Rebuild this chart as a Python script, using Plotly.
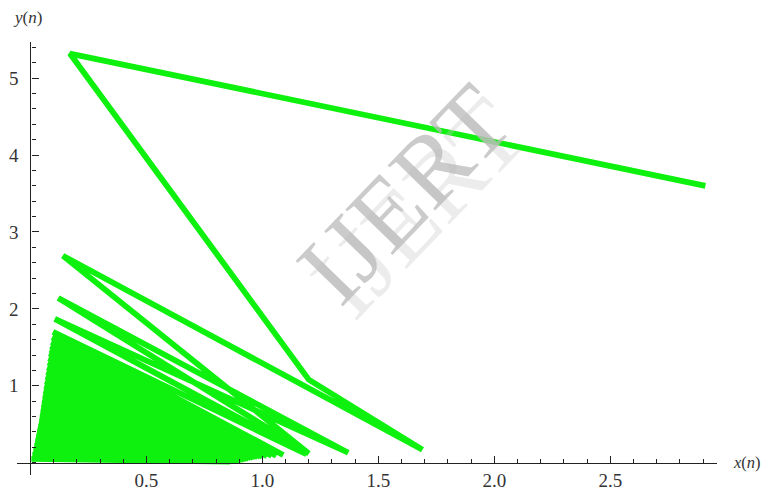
import plotly.graph_objects as go

# Trajectory of the iterated map (x(n), y(n))
x_n = [2.91, 0.17, 1.20, 1.69, 0.14, 1.20, 0.12, 1.37, 0.105, 1.19,
       0.097, 1.09, 0.093, 1.06, 0.090, 1.04, 0.087, 1.02, 0.084, 1.00,
       0.081, 0.99, 0.078, 0.98, 0.075, 0.97, 0.072, 0.96, 0.069, 0.96,
       0.066, 0.95, 0.063, 0.95, 0.060, 0.94, 0.057, 0.94, 0.054, 0.93,
       0.051, 0.93, 0.048, 0.92, 0.045, 0.92, 0.042, 0.91, 0.039, 0.91,
       0.036, 0.90, 0.032, 0.90, 0.028, 0.89, 0.024, 0.89, 0.020, 0.88,
       0.016, 0.88, 0.012, 0.87, 0.008, 0.86, 0.004]
y_n = [3.60, 5.32, 1.08, 0.17, 2.69, 0.12, 2.14, 0.13, 1.87, 0.11,
       1.70, 0.10, 1.63, 0.09, 1.57, 0.09, 1.52, 0.085, 1.47, 0.08,
       1.42, 0.08, 1.36, 0.075, 1.30, 0.07, 1.24, 0.07, 1.18, 0.065,
       1.12, 0.06, 1.06, 0.06, 1.00, 0.055, 0.94, 0.05, 0.88, 0.05,
       0.82, 0.045, 0.76, 0.045, 0.70, 0.04, 0.64, 0.04, 0.58, 0.035,
       0.52, 0.035, 0.46, 0.03, 0.40, 0.03, 0.34, 0.025, 0.28, 0.025,
       0.22, 0.02, 0.16, 0.02, 0.10, 0.015, 0.05]

x_ticks = [0.5, 1.0, 1.5, 2.0, 2.5]
x_tick_labels = ["0.5", "1.0", "1.5", "2.0", "2.5"]
y_ticks = [1, 2, 3, 4, 5]
y_tick_labels = ["1", "2", "3", "4", "5"]

XMIN, XMAX = -0.058, 2.96
YMIN, YMAX = -0.16, 5.47

# page offset (default body margin of the html page)
OFF = 8
W, H = 769 - OFF, 495 - OFF
# desired plot area in page pixels: left 17, right 717, top 42, bottom 475
ML, MR, MT, MB = 17 - OFF, 769 - 717, 42 - OFF, 495 - 475
PW = W - ML - MR
PH = H - MT - MB


def px(xp):
    # page pixel x -> paper fraction
    return (xp - OFF - ML) / PW


def py(yp):
    # page pixel y -> paper fraction
    return (H - MB - (yp - OFF)) / PH


fig = go.Figure()
fig.add_trace(go.Scatter(
    x=x_n, y=y_n, mode="lines",
    line=dict(color="#0ef00e", width=5.8),
    hoverinfo="skip", showlegend=False,
))

font_serif = "Liberation Serif, Times New Roman, serif"
axis_common = dict(
    showgrid=False, zeroline=False, showline=True, linecolor="#222",
    linewidth=1.3, ticks="inside", tickcolor="#222", tickwidth=1.3,
    ticklen=7, tickfont=dict(family=font_serif, size=19, color="#333"),
    tickmode="array", fixedrange=True, automargin=False,
)

fig.update_layout(
    width=W, height=H,
    margin=dict(l=ML, r=MR, t=MT, b=MB, autoexpand=False),
    paper_bgcolor="white", plot_bgcolor="white",
    xaxis=dict(
        range=[XMIN, XMAX], tickvals=x_ticks, ticktext=x_tick_labels,
        anchor="free", position=(0 - YMIN) / (YMAX - YMIN),
        minor=dict(dtick=0.1, tick0=0, ticks="inside", ticklen=4,
                   tickcolor="#222", tickwidth=1.1),
        **axis_common,
    ),
    yaxis=dict(
        range=[YMIN, YMAX], tickvals=y_ticks, ticktext=y_tick_labels,
        anchor="free", position=(0 - XMIN) / (XMAX - XMIN),
        ticklabelstandoff=8,
        minor=dict(dtick=0.2, tick0=0, ticks="inside", ticklen=4,
                   tickcolor="#222", tickwidth=1.1),
        **axis_common,
    ),
)

# Watermark (faint echo + main)
fig.add_annotation(
    text="IJERT", xref="paper", yref="paper",
    x=px(418), y=py(208),
    showarrow=False, textangle=-46,
    font=dict(family=font_serif, size=100, color="rgba(200,200,200,0.35)"),
)
fig.add_annotation(
    text="IJERT", xref="paper", yref="paper",
    x=px(404), y=py(194),
    showarrow=False, textangle=-46,
    font=dict(family=font_serif, size=100, color="rgba(185,185,185,0.75)"),
)

# Axis labels
fig.add_annotation(
    text="<i>x</i>(<i>n</i>)", xref="paper", yref="paper",
    x=px(731), y=(0 - YMIN) / (YMAX - YMIN),
    xanchor="left", yanchor="middle", showarrow=False,
    font=dict(family=font_serif, size=16.5, color="#333"),
)
fig.add_annotation(
    text="<i>y</i>(<i>n</i>)", xref="paper", yref="paper",
    x=px(11), y=py(18),
    xanchor="left", yanchor="middle", showarrow=False,
    font=dict(family=font_serif, size=17, color="#333"),
)

fig.write_html("out.html")
